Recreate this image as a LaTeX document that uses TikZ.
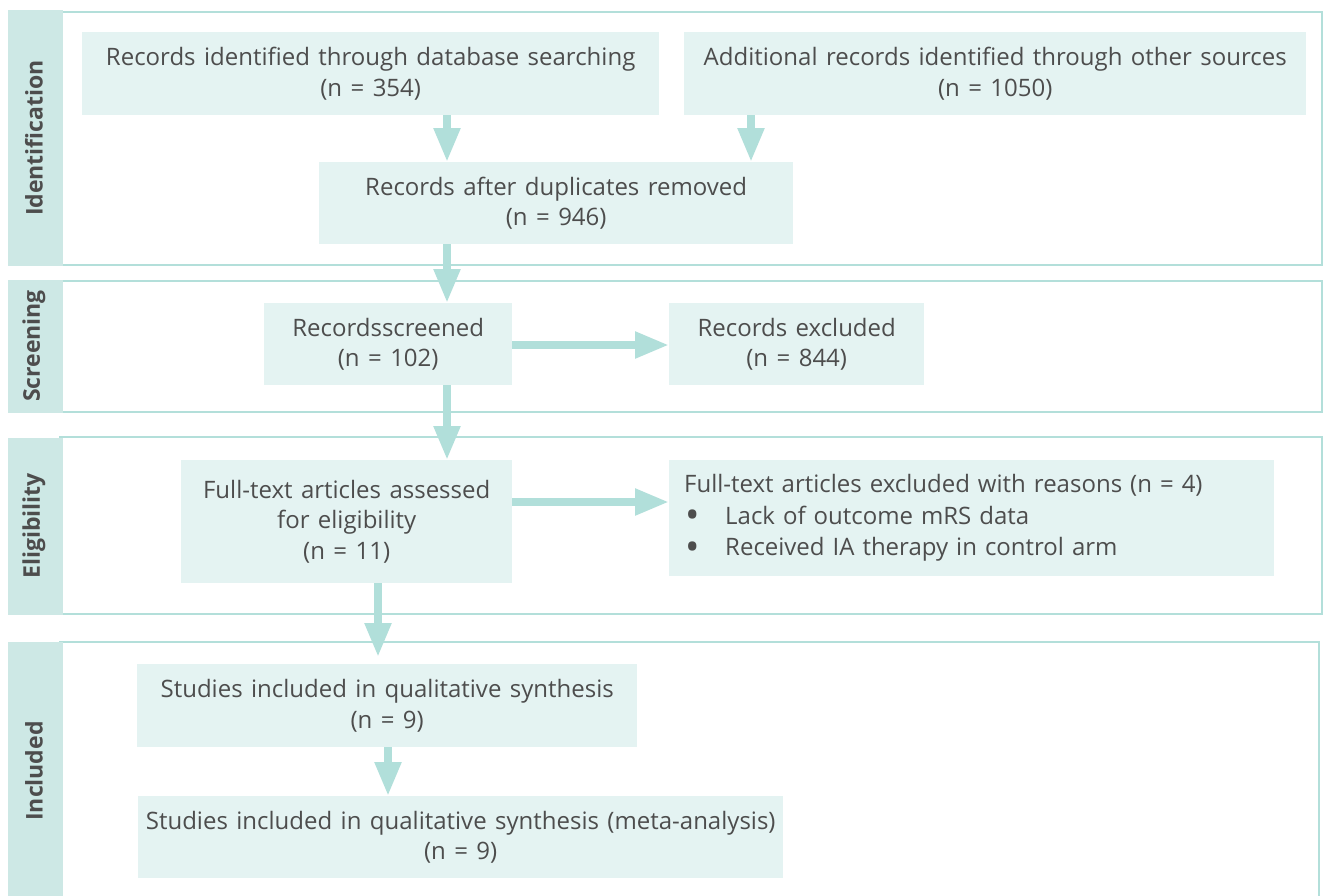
\documentclass[tikz,border=0pt]{standalone}
\usepackage{fontspec}
\setmainfont{Open Sans}[WordSpace=1.35]
\usetikzlibrary{arrows.meta,calc}
\definecolor{boxc}{HTML}{E4F3F2}
\definecolor{barc}{HTML}{CDE8E5}
\definecolor{linec}{HTML}{B3DFDA}
\definecolor{arrc}{HTML}{B1DFDA}
\definecolor{txtc}{HTML}{4D4D4D}
\newcommand{\bigbul}{\makebox[41pt][l]{\hspace{1pt}\raisebox{-4.5pt}{\smash{\scalebox{1.6}{\textbullet}}}}}
\begin{document}
\begin{tikzpicture}[x=1pt,y=-1pt,
 box/.style={fill=boxc, draw=none, inner sep=0pt, anchor=north west, align=center, text=txtc, font=\fontsize{24}{30.5}\selectfont},
 frame/.style={draw=linec, line width=2.5pt},
 bar/.style={fill=barc, draw=none},
 lbl/.style={rotate=90, text=txtc, font=\bfseries\fontsize{23}{26}\selectfont},
 flow/.style={draw=arrc, line width=8pt, -{Triangle[width=25pt,length=34pt]}}]
\useasboundingbox (0,0) rectangle (1324,895);
\clip (0,0) rectangle (1324,895);
\fill[white] (0,0) rectangle (1324,895);
% frames
\draw[frame] (60,12) rectangle (1322,265);
\fill[bar] (8,10) rectangle (63,266);
\draw[frame] (60,281) rectangle (1322,412);
\fill[bar] (8,280) rectangle (63,413);
\draw[frame] (60,437) rectangle (1322,614);
\fill[bar] (8,438) rectangle (63,615);
\draw[frame] (60,910) -- (60,642) -- (1319,642) -- (1319,910);
\fill[bar] (8,642) rectangle (63,910);
% labels
\node[lbl] (lid) at (34,138) {Identification};
\node[lbl] (lsc) at (34,346) {Screening};
\node[lbl] (lel) at (34,526) {Eligibility};
\node[lbl] (lin) at (34,771) {Included};
% boxes
\node[box, minimum width=577pt, minimum height=83pt] (b1) at (82,32) {Records identified through database searching\\(n = 354)};
\node[box, minimum width=622pt, minimum height=83pt] (b2) at (684,32) {Additional records identified through other sources\\(n = 1050)};
\node[box, minimum width=474pt, minimum height=82pt] (b3) at (319,162) {Records after duplicates removed\\(n = 946)};
\node[box, minimum width=248pt, minimum height=82pt] (b4) at (264,303) {Recordsscreened\\(n = 102)};
\node[box, minimum width=255pt, minimum height=82pt] (b5) at (669,303) {Records excluded\\(n = 844)};
\node[box, minimum width=331pt, minimum height=123pt] (b6) at (181,460) {Full-text articles assessed\\for eligibility\\(n = 11)};
\node[box, minimum height=116pt, text width=575pt, inner xsep=15pt, align=left, font=\fontsize{24}{31.5}\selectfont] (b7) at (669,460) {Full-text articles excluded with reasons (n = 4)\\\bigbul Lack of outcome mRS data\\\bigbul Received IA therapy in control arm};
\node[box, minimum width=500pt, minimum height=83pt] (b8) at (137,664) {Studies included in qualitative synthesis\\(n = 9)};
\node[box, minimum width=645pt, minimum height=82pt] (b9) at (138,796) {Studies included in qualitative synthesis (meta-analysis)\\(n = 9)};
% arrow guide coordinates
\coordinate (xa) at (447,0);
\coordinate (xb) at (751,0);
\coordinate (xc) at (378,0);
\coordinate (xd) at (388,0);
\coordinate (ya) at (0,345);
\coordinate (yb) at (0,502);
% connectors
\draw[flow] (b1.south -| xa) -- (b3.north -| xa);
\draw[flow] (b2.south -| xb) -- (b3.north -| xb);
\draw[flow] (b3.south -| xa) -- (b4.north -| xa);
\draw[flow] (b4.east |- ya) -- (b5.west |- ya);
\draw[flow] (b4.south -| xa) -- (b6.north -| xa);
\draw[flow] (b6.east |- yb) -- (b7.west |- yb);
\draw[flow, shorten >=7pt] (b6.south -| xc) -- (b8.north -| xc);
\draw[flow] (b8.south -| xd) -- (b9.north -| xd);
\end{tikzpicture}
\end{document}
